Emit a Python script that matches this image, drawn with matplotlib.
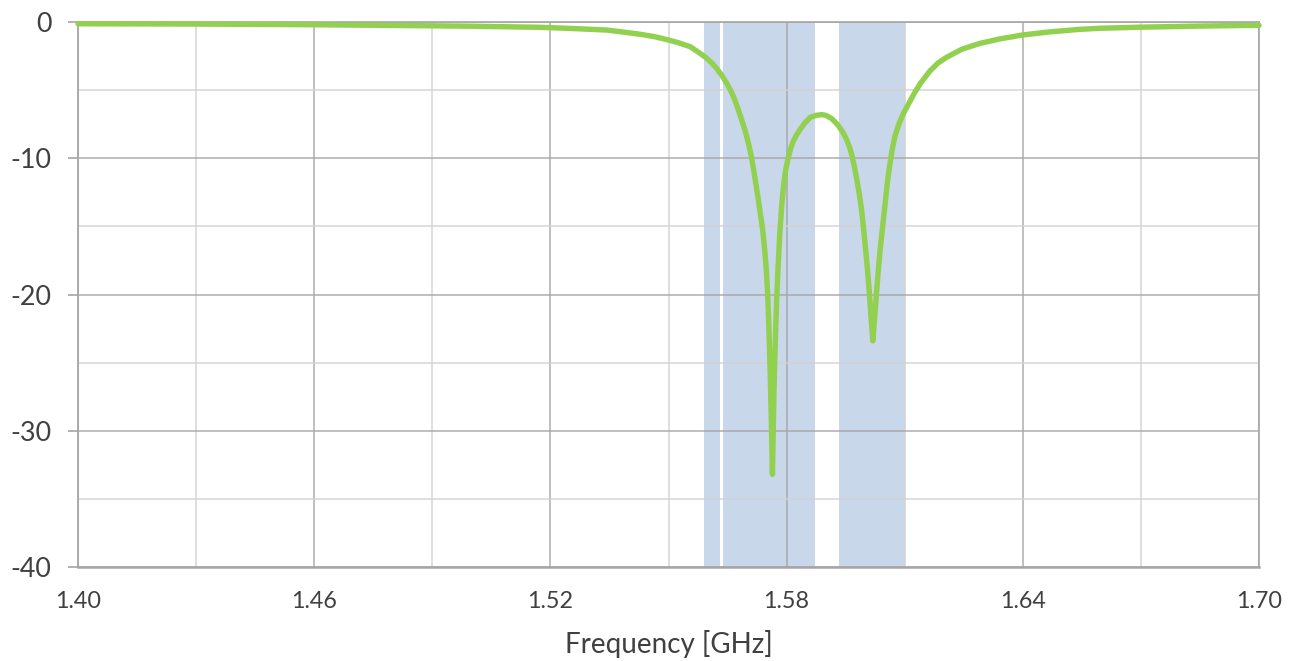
import matplotlib
matplotlib.use("Agg")
import matplotlib.pyplot as plt
from matplotlib.ticker import FixedLocator

# ---- data ----
freq_ghz = [1.400, 1.430, 1.460, 1.490, 1.500, 1.5175, 1.525, 1.5343, 1.538,
            1.5428, 1.5465, 1.550, 1.5525, 1.5555, 1.5570, 1.5592, 1.5610,
            1.5622, 1.5635, 1.5648, 1.5660, 1.5669, 1.5678, 1.5686, 1.5695,
            1.5703, 1.5710, 1.5716, 1.5722, 1.5728, 1.5734, 1.5739, 1.5744,
            1.5748, 1.5752, 1.5755, 1.5758, 1.5761, 1.5764, 1.5766, 1.5768,
            1.5770, 1.5772, 1.5775, 1.5779, 1.5783, 1.5788, 1.5793, 1.5798,
            1.5804, 1.5810, 1.5817, 1.5825, 1.5834, 1.5845, 1.5860, 1.5875,
            1.5889, 1.5900, 1.5915, 1.5930, 1.5943, 1.5952, 1.5960, 1.5966,
            1.5972, 1.5978, 1.5984, 1.5990, 1.5995, 1.6000, 1.6005, 1.6010,
            1.6014, 1.6019, 1.6024, 1.6028, 1.6033, 1.6038, 1.6044, 1.6050,
            1.6056, 1.6062, 1.6068, 1.6075, 1.6085, 1.6097, 1.6110, 1.6125,
            1.6140, 1.6164, 1.6185, 1.6206, 1.6245, 1.6291, 1.6340, 1.6400,
            1.6470, 1.6545, 1.6596, 1.6700, 1.6850, 1.7000]
s11_db = [-0.13, -0.15, -0.20, -0.28, -0.31, -0.39, -0.47, -0.59, -0.72,
          -0.90, -1.08, -1.32, -1.52, -1.81, -2.10, -2.54, -3.00,
          -3.40, -3.90, -4.50, -5.15, -5.75, -6.50, -7.20, -8.00,
          -8.90, -9.80, -10.8, -11.9, -13.0, -14.2, -15.2, -16.6,
          -18.0, -20.0, -22.4, -25.4, -29.0, -33.2, -30.0, -27.0,
          -24.8, -22.8, -20.2, -17.6, -15.4, -13.3, -11.8, -10.8,
          -10.0, -9.30, -8.75, -8.30, -7.90, -7.45, -7.00, -6.85,
          -6.80, -6.85, -7.10, -7.55, -8.10, -8.60, -9.20, -9.80,
          -10.6, -11.5, -12.5, -13.7, -15.0, -16.5, -18.0, -19.8,
          -21.5, -23.4, -21.6, -20.0, -18.2, -16.6, -15.0, -13.4,
          -11.8, -10.5, -9.40, -8.40, -7.50, -6.70, -6.00, -5.20,
          -4.50, -3.60, -3.00, -2.60, -2.00, -1.57, -1.25, -0.95,
          -0.72, -0.54, -0.46, -0.38, -0.30, -0.24]

# GNSS bands (GHz)
band_start = [1.5590, 1.5639, 1.5933]
band_end = [1.5632, 1.5871, 1.6101]

x_ticks = [1.40, 1.46, 1.52, 1.58, 1.64, 1.70]
x_minor = [1.43, 1.49, 1.55, 1.61, 1.67]
x_tick_labels = ["1.40", "1.46", "1.52", "1.58", "1.64", "1.70"]
y_ticks = [-40, -30, -20, -10, 0]
y_minor = [-35, -25, -15, -5]
y_tick_labels = ["-40", "-30", "-20", "-10", "0"]
x_label = "Frequency [GHz]"

# ---- figure ----
plt.rcParams['font.family'] = ['Lato', 'DejaVu Sans']
fig = plt.figure(figsize=(12.98, 6.61), dpi=100)
ax = fig.add_axes([78/1298, 94/661, (1259-78)/1298, (567-22)/661])

text_color = '#404040'
major_grid = '#A6A6A6'
minor_grid = '#D2D2D2'

for s, e in zip(band_start, band_end):
    ax.axvspan(s, e, color='#C9D7EA', lw=0, zorder=1)

ax.set_xlim(1.40, 1.70)
ax.set_ylim(-40, 0)
ax.xaxis.set_major_locator(FixedLocator(x_ticks))
ax.set_xticklabels(x_tick_labels)
ax.xaxis.set_minor_locator(FixedLocator(x_minor))
ax.yaxis.set_major_locator(FixedLocator(y_ticks))
ax.set_yticklabels(y_tick_labels)
ax.yaxis.set_minor_locator(FixedLocator(y_minor))

ax.grid(True, which='major', color=major_grid, lw=1.2, alpha=0.85)
ax.grid(True, which='minor', color=minor_grid, lw=1.2, alpha=0.85)
ax.set_axisbelow(False)
for gl in ax.get_xgridlines() + ax.get_ygridlines():
    gl.set_zorder(2)

ax.plot(freq_ghz, s11_db, color='#92D050', lw=3.9, solid_capstyle='round',
        solid_joinstyle='round', zorder=5, clip_on=False)

for side in ['top', 'right']:
    ax.spines[side].set_color(major_grid)
    ax.spines[side].set_linewidth(1.2)
ax.spines['left'].set_color('#A6A6A6')
ax.spines['left'].set_linewidth(1.3)
ax.spines['bottom'].set_color('#A6A6A6')
ax.spines['bottom'].set_linewidth(1.8)
for sp in ax.spines.values():
    sp.set_zorder(3)

ax.tick_params(axis='x', which='both', length=0, pad=17, labelsize=16.8,
               colors=text_color)
ax.tick_params(axis='y', which='major', length=7.2, width=1.2, color='#A6A6A6',
               pad=12, labelsize=19.4, labelcolor=text_color)
ax.tick_params(axis='y', which='minor', length=0)

ax.set_xlabel(x_label, fontsize=20, color=text_color, labelpad=13)

fig.savefig('out.png', dpi=100)
